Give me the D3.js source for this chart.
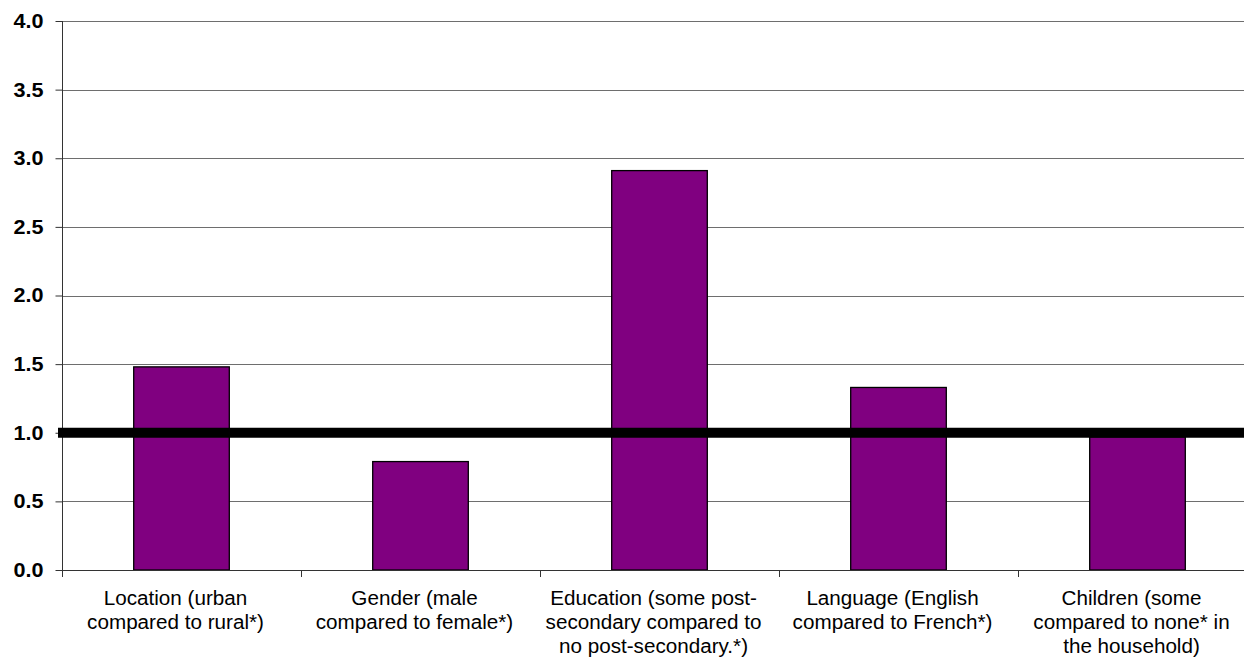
<!DOCTYPE html>
<html>
<head>
<meta charset="utf-8">
<script src="https://cdn.jsdelivr.net/npm/d3@7"></script>
<style>
  html, body { margin: 0; padding: 0; background: #fff; }
  svg { display: block; }
</style>
</head>
<body>
<svg id="chart" width="1244" height="657"></svg>
<script>
// Odds ratios by respondent characteristic
const categories = [
  ["Location (urban", "compared to rural*)"],
  ["Gender (male", "compared to female*)"],
  ["Education (some post-", "secondary compared to", "no post-secondary.*)"],
  ["Language (English", "compared to French*)"],
  ["Children (some", "compared to none* in", "the household)"]
];
const values = [1.48, 0.79, 2.91, 1.33, 0.97];
const yTicks = [0, 0.5, 1.0, 1.5, 2.0, 2.5, 3.0, 3.5, 4.0];
const referenceValue = 1.0;

const svg = d3.select("#chart");
const plotLeft = 62, plotTop = 21, plotBottom = 570;
const bandW = 239;
const plotRight = plotLeft + bandW * categories.length;
const fontFamily = "Liberation Sans, Arial, sans-serif";

const x = d3.scaleBand()
  .domain(d3.range(categories.length))
  .range([plotLeft, plotRight])
  .paddingInner(0).paddingOuter(0);

const y = d3.scaleLinear().domain([0, 4]).range([plotBottom, plotTop]);

// horizontal gridlines
svg.append("g")
  .selectAll("line")
  .data(yTicks.filter(d => d > 0))
  .join("line")
  .attr("x1", plotLeft).attr("x2", plotRight)
  .attr("y1", d => Math.round(y(d)) + 0.5)
  .attr("y2", d => Math.round(y(d)) + 0.5)
  .attr("stroke", "#6e6e6e").attr("stroke-width", 1);

// bars
const barW = bandW * 0.4;
svg.append("g")
  .selectAll("rect")
  .data(values)
  .join("rect")
  .attr("x", (d, i) => x(i) + (bandW - barW) / 2)
  .attr("y", d => y(d))
  .attr("width", barW)
  .attr("height", d => plotBottom - y(d))
  .attr("fill", "#800080")
  .attr("stroke", "#000")
  .attr("stroke-width", 1.3);

// y axis
const yAxis = d3.axisLeft(y)
  .tickValues(yTicks)
  .tickFormat(d3.format(".1f"))
  .tickSize(7)
  .tickPadding(12);
const gy = svg.append("g")
  .attr("transform", `translate(${plotLeft + 0.5},0)`)
  .call(yAxis);
gy.select(".domain").attr("stroke", "#333").attr("d", `M0,${plotTop}V${plotBottom}`);
gy.selectAll(".tick line").attr("stroke", "#333");
gy.selectAll(".tick text")
  .attr("transform", function() {
    const tx = +d3.select(this).attr("x");
    return `translate(${tx},0) scale(1.08,1)`;
  })
  .attr("x", 0)
  .attr("font-family", fontFamily)
  .attr("font-size", 20).attr("font-weight", "bold").attr("fill", "#000");

// x axis baseline and boundary ticks
svg.append("line")
  .attr("x1", plotLeft).attr("x2", plotRight)
  .attr("y1", plotBottom + 0.5).attr("y2", plotBottom + 0.5)
  .attr("stroke", "#333");
svg.append("g")
  .selectAll("line")
  .data(d3.range(categories.length + 1))
  .join("line")
  .attr("x1", i => plotLeft + i * bandW + 0.5)
  .attr("x2", i => plotLeft + i * bandW + 0.5)
  .attr("y1", plotBottom).attr("y2", plotBottom + 7)
  .attr("stroke", "#333");

// category labels
const labels = svg.append("g")
  .selectAll("text")
  .data(categories)
  .join("text")
  .attr("transform", (d, i) => `translate(${x(i) + bandW / 2 - 6},605) scale(1.06,1)`)
  .attr("text-anchor", "middle")
  .attr("font-family", fontFamily)
  .attr("font-size", 19.5)
  .attr("fill", "#000");
labels.selectAll("tspan")
  .data(d => d)
  .join("tspan")
  .attr("x", 0)
  .attr("dy", (d, i) => i === 0 ? 0 : 24)
  .text(d => d);

// reference line at 1.0
svg.append("line")
  .attr("x1", plotLeft - 4).attr("x2", plotRight)
  .attr("y1", y(referenceValue)).attr("y2", y(referenceValue))
  .attr("stroke", "#000").attr("stroke-width", 10);
</script>
</body>
</html>
